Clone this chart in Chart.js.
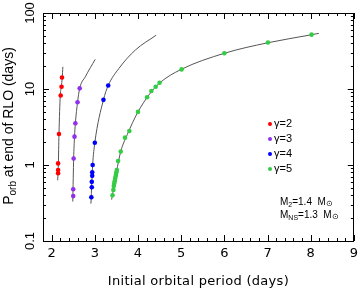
<!DOCTYPE html>
<html>
<head>
<meta charset="utf-8">
<script src="https://cdn.jsdelivr.net/npm/chart.js@4/dist/chart.umd.min.js"></script>
<style>
  body { margin: 0; background: #fff; }
  canvas { display: block; }
</style>
</head>
<body>
<canvas id="chart" width="363" height="291"></canvas>
<script>
// tick labels
const xTickValues = [2, 3, 4, 5, 6, 7, 8, 9];
const yTickValues = [0.1, 1, 10, 100];
const yTickLabels = ['0.1', '1', '10', '100'];

// simulated end points
const gamma2X = [2.24, 2.23, 2.21, 2.17, 2.15, 2.15, 2.15];
const gamma2Y = [14.2, 10.7, 8.2, 2.56, 1.05, 0.86, 0.78];

const gamma3X = [2.65, 2.60, 2.55, 2.53, 2.51, 2.50, 2.50];
const gamma3Y = [10.2, 6.7, 3.54, 2.36, 1.22, 0.48, 0.39];

const gamma4X = [3.31, 3.20, 3.00, 2.95, 2.94, 2.94, 2.93, 2.93, 2.92];
const gamma4Y = [11.1, 7.2, 1.96, 1.0, 0.80, 0.72, 0.60, 0.51, 0.376];

const gamma5X = [8.02, 7.01, 6.0, 5.01, 4.50, 4.41, 4.31, 4.21, 4.0, 3.80, 3.70, 3.60, 3.54,
                 3.51, 3.50, 3.49, 3.48, 3.47, 3.46, 3.45, 3.44, 3.43, 3.41];
const gamma5Y = [51.9, 41, 29.5, 18.1, 12.1, 10.7, 9.4, 7.8, 5.0, 2.8, 2.29, 1.50, 1.13,
                 0.86, 0.80, 0.745, 0.70, 0.655, 0.61, 0.57, 0.53, 0.47, 0.40];

// fitted curves (grey lines)
const fit2X = [2.14, 2.155, 2.17, 2.20, 2.225, 2.245, 2.26];
const fit2Y = [0.63, 1.0, 2.56, 8.2, 10.7, 14.2, 19.6];

const fit3X = [2.49, 2.51, 2.53, 2.55, 2.60, 2.65, 2.78, 3.01];
const fit3Y = [0.33, 1.22, 2.36, 3.54, 6.7, 10.2, 14.5, 24.6];

const fit4X = [2.91, 2.95, 3.00, 3.20, 3.31, 3.56, 3.94, 4.42];
const fit4Y = [0.31, 1.0, 1.96, 7.2, 11.1, 18.7, 32.6, 51];

const fit5X = [3.39, 3.50, 3.60, 3.75, 4.0, 4.25, 4.50, 5.0, 6.0, 7.0, 8.0, 8.19];
const fit5Y = [0.35, 0.80, 1.50, 2.5, 5.0, 8.3, 12.0, 18.1, 29.5, 40.5, 51.5, 54];

const seriesNames = ['γ=2', 'γ=3', 'γ=4', 'γ=5'];
const seriesColors = ['#ff0000', '#9030ee', '#0000ff', '#33cc44'];

function toPoints(xs, ys) {
    return xs.map((x, i) => ({ x: x, y: ys[i] }));
}

const FONT = '"Liberation Sans", Arial, sans-serif';
const WIDE = '"DejaVu Sans", sans-serif';

const pointSets = [[gamma2X, gamma2Y], [gamma3X, gamma3Y], [gamma4X, gamma4Y], [gamma5X, gamma5Y]];
const fitSets = [[fit2X, fit2Y], [fit3X, fit3Y], [fit4X, fit4Y], [fit5X, fit5Y]];

const datasets = [];
pointSets.forEach((s, i) => {
    datasets.push({
        label: seriesNames[i],
        data: toPoints(s[0], s[1]),
        showLine: false,
        pointRadius: 2.3,
        pointBackgroundColor: seriesColors[i],
        pointBorderWidth: 0,
        order: 0
    });
});
fitSets.forEach((s, i) => {
    datasets.push({
        label: 'fit ' + seriesNames[i],
        data: toPoints(s[0], s[1]),
        showLine: true,
        pointRadius: 0,
        borderColor: '#555555',
        borderWidth: 1,
        cubicInterpolationMode: 'monotone',
        order: 1
    });
});

// draws the frame, inward ticks, y labels, titles, legend and note
const decorations = {
    id: 'decorations',
    afterDraw(chart) {
        const ctx = chart.ctx;
        const a = chart.chartArea;
        const xs = chart.scales.x;
        const ys = chart.scales.y;
        ctx.save();
        ctx.strokeStyle = '#000';
        ctx.lineWidth = 1;
        ctx.strokeRect(Math.round(a.left) + 0.5, Math.round(a.top) + 0.5,
            Math.round(a.right - a.left) - 1, Math.round(a.bottom - a.top));

        ctx.beginPath();
        for (let i = 0; i <= 36; i++) {
            const v = 1.8 + i * 0.2;
            const px = Math.round(xs.getPixelForValue(v)) + 0.5;
            const len = Math.abs(v - Math.round(v)) < 1e-6 ? 6 : 3;
            ctx.moveTo(px, a.bottom); ctx.lineTo(px, a.bottom - len);
            ctx.moveTo(px, a.top); ctx.lineTo(px, a.top + len);
        }
        [0.1, 1, 10].forEach(dec => {
            for (let k = 1; k <= 10; k++) {
                const py = Math.round(ys.getPixelForValue(k * dec)) + 0.5;
                const len = (k === 1 || k === 10) ? 6 : 3;
                ctx.moveTo(a.left, py); ctx.lineTo(a.left + len, py);
                ctx.moveTo(a.right, py); ctx.lineTo(a.right - len, py);
            }
        });
        ctx.stroke();

        // y tick labels, rotated
        ctx.fillStyle = '#000';
        ctx.font = '13px ' + FONT;
        ctx.textAlign = 'center';
        ctx.textBaseline = 'middle';
        yTickValues.forEach((v, i) => {
            ctx.save();
            ctx.translate(30, ys.getPixelForValue(v));
            ctx.rotate(-Math.PI / 2);
            ctx.fillText(yTickLabels[i], 0, 0);
            ctx.restore();
        });

        // x title
        ctx.save();
        ctx.font = '13px ' + WIDE;
        ctx.letterSpacing = '0.3px';
        ctx.fillText('Initial orbital period (days)', (a.left + a.right) / 2, 282);
        ctx.restore();

        // y title with subscript
        ctx.save();
        ctx.translate(9, (a.top + a.bottom) / 2 - 1);
        ctx.rotate(-Math.PI / 2);
        drawRich(ctx, [
            { t: 'P', size: 14 },
            { t: 'orb', size: 10, dy: 4 },
            { t: ' at end of RLO (days)', size: 14 }
        ], 0, 0, 'center');
        ctx.restore();

        // legend
        seriesNames.forEach((name, i) => {
            const y = 124 + i * 15;
            ctx.fillStyle = seriesColors[i];
            ctx.beginPath();
            ctx.arc(270, y, 2, 0, Math.PI * 2);
            ctx.fill();
            ctx.fillStyle = '#000';
            ctx.font = '11px ' + FONT;
            ctx.textAlign = 'left';
            ctx.fillText(name, 274, y);
        });

        // masses note
        drawRich(ctx, [
            { t: 'M', size: 10 }, { t: '2', size: 7, dy: 3 },
            { t: '=1.4  M', size: 10 }, { t: '⊙', size: 8, dy: 2 }
        ], 280, 202, 'left');
        drawRich(ctx, [
            { t: 'M', size: 10 }, { t: 'NS', size: 7, dy: 3 },
            { t: '=1.3  M', size: 10 }, { t: '⊙', size: 8, dy: 2 }
        ], 280, 215, 'left');
        ctx.restore();
    }
};

function drawRich(ctx, parts, x, y, align) {
    let total = 0;
    parts.forEach(p => {
        ctx.font = p.size + 'px ' + FONT;
        p.w = ctx.measureText(p.t).width;
        total += p.w;
    });
    let cx = align === 'center' ? x - total / 2 : x;
    ctx.textAlign = 'left';
    ctx.textBaseline = 'middle';
    ctx.fillStyle = '#000';
    parts.forEach(p => {
        ctx.font = p.size + 'px ' + FONT;
        ctx.fillText(p.t, cx, y + (p.dy || 0));
        cx += p.w;
    });
}

new Chart(document.getElementById('chart'), {
    type: 'scatter',
    data: { datasets: datasets },
    options: {
        responsive: false,
        animation: false,
        layout: { padding: { top: 13, right: 4, left: 0, bottom: 0 } },
        plugins: { legend: { display: false }, tooltip: { enabled: false } },
        scales: {
            x: {
                type: 'linear',
                min: 1.8,
                max: 9,
                afterBuildTicks: scale => {
                    scale.ticks = xTickValues.map(v => ({ value: v }));
                },
                ticks: {
                    color: '#000',
                    font: { family: WIDE, size: 13 },
                    padding: 5,
                    maxRotation: 0,
                    autoSkip: false,
                    callback: v => String(v)
                },
                grid: { display: false, drawTicks: false },
                border: { display: false },
                afterFit: scale => { scale.height = 50; }
            },
            y: {
                type: 'logarithmic',
                min: 0.1,
                max: 100,
                ticks: { display: false },
                grid: { display: false, drawTicks: false },
                border: { display: false },
                afterFit: scale => { scale.width = 43; }
            }
        }
    },
    plugins: [decorations]
});
</script>
</body>
</html>
